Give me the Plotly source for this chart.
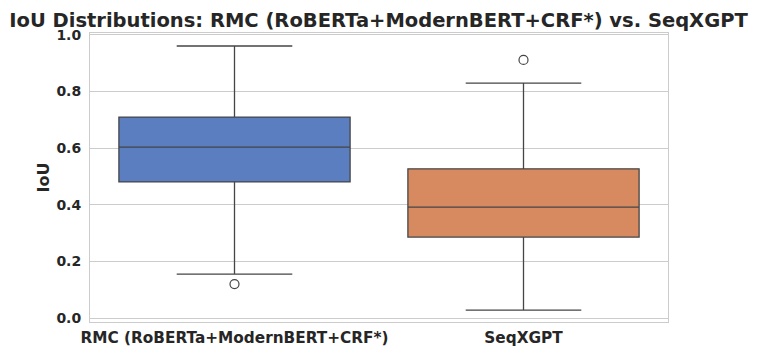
import plotly.graph_objects as go

# box stats
models = ["RMC (RoBERTa+ModernBERT+CRF*)", "SeqXGPT"]
q1 = [0.481, 0.286]
median = [0.604, 0.392]
q3 = [0.710, 0.527]
lower_fence = [0.155, 0.028]
upper_fence = [0.961, 0.830]
outliers = [[0.120], [0.912]]
colors = ["#5a7ec0", "#d78a60"]

fig = go.Figure()
for i in range(len(models)):
    fig.add_trace(go.Box(
        x=[models[i]], q1=[q1[i]], median=[median[i]], q3=[q3[i]],
        lowerfence=[lower_fence[i]], upperfence=[upper_fence[i]],
        fillcolor=colors[i], line=dict(color="#454545", width=1.3),
        whiskerwidth=0.5, width=0.8, boxpoints=False, showlegend=False,
        hoverinfo="skip"))
    fig.add_trace(go.Scatter(
        x=[models[i]] * len(outliers[i]), y=outliers[i], mode="markers",
        marker=dict(symbol="circle-open", size=9, color="#454545",
                    line=dict(width=1.2, color="#454545")),
        showlegend=False))

fig.update_layout(
    width=757, height=353,
    margin=dict(l=90, r=89, t=33, b=31),
    paper_bgcolor="white", plot_bgcolor="white",
    font=dict(family="DejaVu Sans", color="#262626"),
    title=dict(text="IoU Distributions: RMC (RoBERTa+ModernBERT+CRF*) vs. SeqXGPT",
               x=0.5, xanchor="center", y=0.963, yanchor="top",
               font=dict(size=19.5, color="#262626", weight="bold")),
)
fig.update_xaxes(
    showgrid=False, showline=True, mirror=True, linecolor="#cccccc", linewidth=1,
    tickfont=dict(size=15.3, weight="bold"), ticks="",
    ticklabelstandoff=2, automargin=False)
fig.update_yaxes(
    range=[-0.014, 1.007], tickvals=[0, 0.2, 0.4, 0.6, 0.8, 1.0],
    tickformat=".1f", tickfont=dict(size=14, weight="bold"),
    showgrid=True, gridcolor="#cccccc", gridwidth=1,
    zeroline=False, showline=True, mirror=True, linecolor="#cccccc", linewidth=1,
    ticks="", ticklabelstandoff=5, automargin=False,
    title=dict(text="IoU", font=dict(size=16, weight="bold"), standoff=2))

# drop the page margin so the figure sits at the window corner
fig.write_html("out.html", config={"displayModeBar": False},
               post_script="document.body.style.margin='0';")
